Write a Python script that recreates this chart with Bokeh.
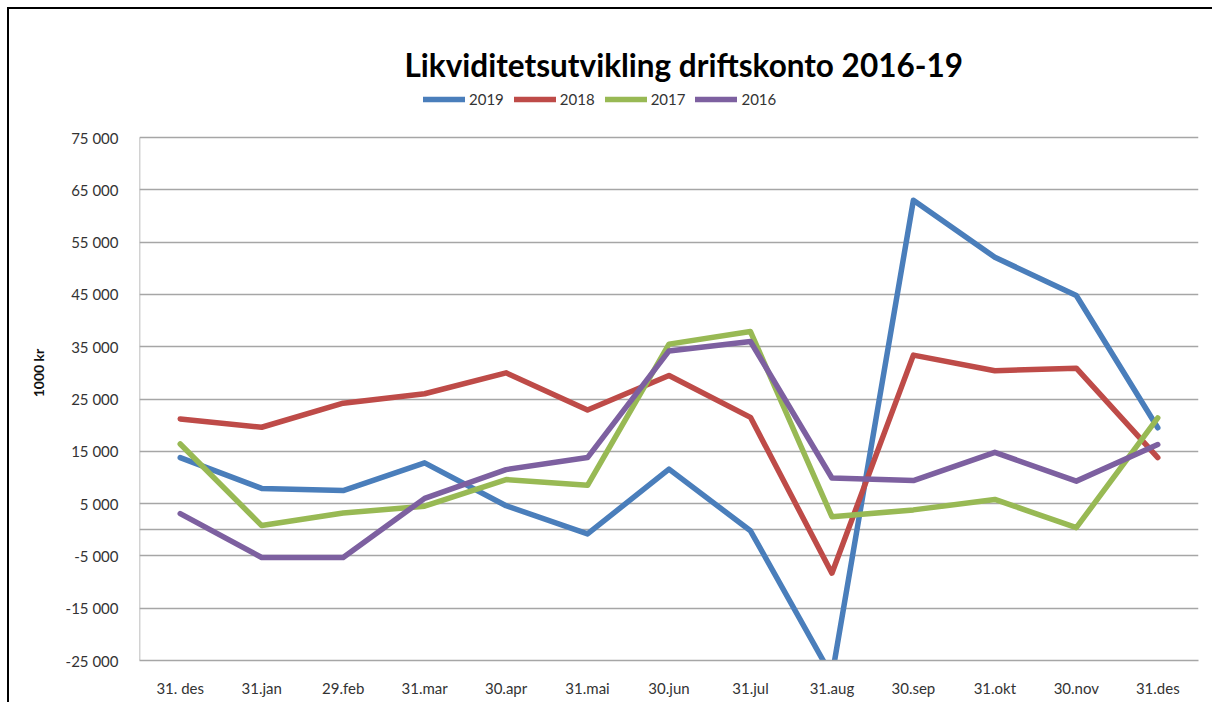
from bokeh.plotting import figure
from bokeh.models import (Range1d, FixedTicker, Legend, LegendItem, Title)
from bokeh.embed import file_html
from bokeh.resources import INLINE

dates = ["31. des", "31.jan", "29.feb", "31.mar", "30.apr", "31.mai", "30.jun",
         "31.jul", "31.aug", "30.sep", "31.okt", "30.nov", "31.des"]
y2019 = [13800, 7900, 7500, 12800, 4600, -800, 11600, -200, -28000, 63000, 52100, 44800, 19500]
y2018 = [21200, 19600, 24200, 26000, 30000, 22900, 29500, 21500, -8300, 33400, 30400, 30900, 13800]
y2017 = [16400, 800, 3200, 4500, 9600, 8500, 35500, 37900, 2500, 3800, 5800, 400, 21400]
y2016 = [3100, -5300, -5300, 6000, 11500, 13800, 34200, 36000, 9900, 9400, 14800, 9300, 16300]
series_names = ["2019", "2018", "2017", "2016"]
series_colors = ["#4a7ebb", "#be4b48", "#98b954", "#7d60a0"]
y_ticks = [-25000, -15000, -5000, 5000, 15000, 25000, 35000, 45000, 55000, 65000, 75000]
y_tick_labels = ["-25 000", "-15 000", "-5 000", "5 000", "15 000", "25 000",
                 "35 000", "45 000", "55 000", "65 000", "75 000"]
title_text = "Likviditetsutvikling driftskonto 2016-19"
y_label = "1000 kr"

FONT = "Lato"
GRID = "#a6a6a6"
Y_MIN, Y_MAX = y_ticks[0], y_ticks[-1]

p = figure(width=1205, height=695, x_range=dates, y_range=Range1d(Y_MIN, 84950),
           output_backend="svg", toolbar_location=None,
           min_border_left=130, min_border_right=16, min_border_top=76,
           min_border_bottom=44)
p.outline_line_color = None
p.x_range.range_padding = 0
p.styles = {"margin-left": "7px", "margin-top": "7px",
            "border-top": "2px solid black", "border-left": "2px solid black"}

# left axis line (only over the value range)
p.segment(x0=[(dates[0], -0.5)], y0=[Y_MIN], x1=[(dates[0], -0.5)], y1=[Y_MAX],
          line_color=GRID, line_width=1.5)

renderers = []
for name, col, ys in zip(series_names, series_colors, [y2019, y2018, y2017, y2016]):
    r = p.line(dates, ys, line_color=col, line_width=5.5, line_join="round", line_cap="round")
    renderers.append(r)

# axes
p.yaxis.ticker = FixedTicker(ticks=y_ticks)
p.yaxis.major_label_overrides = {t: l for t, l in zip(y_ticks, y_tick_labels)}
p.yaxis.major_tick_out = 0
p.yaxis.major_tick_in = 0
p.yaxis.minor_tick_out = 0
p.yaxis.minor_tick_in = 0
p.yaxis.major_label_standoff = 21
p.yaxis.major_label_text_font = FONT
p.yaxis.major_label_text_font_size = "15px"
p.yaxis.major_label_text_color = "#333333"
p.yaxis.axis_line_color = None
p.yaxis.axis_label = y_label
p.yaxis.axis_label_text_font = FONT
p.yaxis.axis_label_text_font_style = "bold"
p.yaxis.axis_label_text_font_size = "14px"
p.yaxis.axis_label_text_color = "#111111"
p.yaxis.axis_label_standoff = 16

p.xaxis.major_tick_out = 0
p.xaxis.major_tick_in = 0
p.xaxis.major_label_standoff = 18
p.xaxis.major_label_text_font = FONT
p.xaxis.major_label_text_font_size = "15px"
p.xaxis.major_label_text_color = "#333333"
p.xaxis.axis_line_color = GRID
p.xaxis.axis_line_width = 1.5

p.xgrid.grid_line_color = None
p.ygrid.ticker = FixedTicker(ticks=y_ticks + [0])
p.ygrid.grid_line_color = GRID
p.ygrid.grid_line_width = 1.5

legend = Legend(items=[LegendItem(label=n, renderers=[r]) for n, r in zip(series_names, renderers)],
                orientation="horizontal", location=(284, 552),
                label_text_font=FONT, label_text_font_size="15px", label_text_color="#333333",
                glyph_width=42, glyph_height=14, label_standoff=4, spacing=10,
                padding=2, margin=0, border_line_color=None, background_fill_alpha=0)
p.add_layout(legend)

p.title = Title(text=title_text, align="left", text_font=FONT, text_font_size="31.5px",
                text_font_style="bold", text_color="#000000", offset=265, standoff=4)

open("out.html", "w").write(file_html(p, INLINE))
